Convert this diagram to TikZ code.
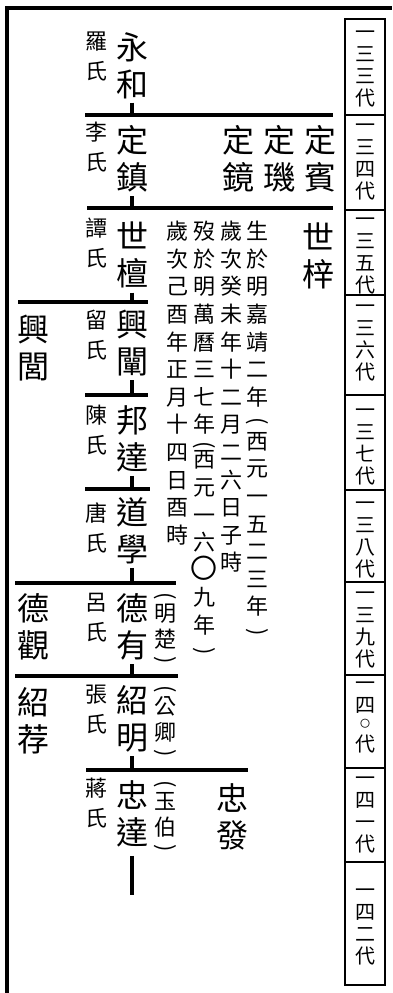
\documentclass[tikz,border=0pt]{standalone}
\usepackage{fontspec}
\newfontfamily\cjk{Noto Sans CJK TC}
\newcommand{\vlp}{\rotatebox[origin=c]{-90}{(}}
\newcommand{\vrp}{\rotatebox[origin=c]{-90}{)}}
\tikzset{
  person/.style={font=\cjk\fontsize{32}{37}\selectfont,align=center,inner sep=0pt,anchor=north},
  wife/.style={font=\cjk\fontsize{22}{29.5}\selectfont,align=center,inner sep=0pt,anchor=north},
  zi/.style={font=\cjk\fontsize{22}{26.5}\selectfont,align=center,inner sep=0pt,anchor=north},
  note/.style={font=\cjk\fontsize{22}{27.6}\selectfont,align=center,inner sep=0pt,anchor=north},
  gen/.style={font=\cjk\fontsize{20}{22}\selectfont,align=center,inner sep=0pt,anchor=north},
  bar/.style={line width=3.2pt},
  outline/.style={line width=3.2pt},
  genline/.style={line width=2.2pt}
}
\begin{document}
\begin{tikzpicture}[x=1pt,y=-1pt]
    \useasboundingbox(0,0)rectangle(392,993);
    \draw[outline](7,993)--(7,8)--(392,8);
    % generation column
    \draw[genline](345,19)rectangle(385,985);
    \draw[genline](345,115)--(385,115);
    \draw[genline](345,210)--(385,210);
    \draw[genline](345,295)--(385,295);
    \draw[genline](345,395)--(385,395);
    \draw[genline](345,490)--(385,490);
    \draw[genline](345,582)--(385,582);
    \draw[genline](345,675)--(385,675);
    \draw[genline](345,768)--(385,768);
    \draw[genline](345,862)--(385,862);
    \node[gen](g133) at(365,31){一\\三\\三\\代};
    \node[gen](g134) at(365,124){一\\三\\四\\代};
    \node[gen](g135) at(365,218){一\\三\\五\\代};
    \node[gen](g136) at(365,305){一\\三\\六\\代};
    \node[gen](g137) at(365,409){一\\三\\七\\代};
    \node[gen](g138) at(365,502){一\\三\\八\\代};
    \node[gen](g139) at(365,592){一\\三\\九\\代};
    \node[gen](g140) at(365,682){一\\四\\[-7pt]{\fontsize{10}{10}\selectfont 〇}\\[1.5pt]代};
    \node[gen](g141) at(365,777){一\\四\\一\\代};
    \node[gen](g142) at(365,889){一\\四\\二\\代};
    % persons
    \node[person](yonghe) at(132,32){永\\和};
    \node[person](dingzhen) at(132,125){定\\鎮};
    \node[person](dingjing) at(238,125){定\\鏡};
    \node[person](dingji) at(279,125){定\\璣};
    \node[person](dingbin) at(320,125){定\\賓};
    \node[person](shitan) at(132,222){世\\檀};
    \node[person](shizi) at(318,223){世\\梓};
    \node[person](xingchan) at(132,310){興\\闡};
    \node[person](xinglv) at(33,315){興\\閭};
    \node[person](bangda) at(132,405){邦\\達};
    \node[person](daoxue) at(132,497){道\\學};
    \node[person](deyou) at(132,593){德\\有};
    \node[person](deguan) at(33,593){德\\觀};
    \node[person](shaoming) at(132,685){紹\\明};
    \node[person](shaojian) at(33,687){紹\\荐};
    \node[person](zhongda) at(132,780){忠\\達};
    \node[person](zhongfa) at(232,783){忠\\發};
    % wives
    \node[wife](luo) at(96,32){羅\\氏};
    \node[wife](li) at(96,122){李\\氏};
    \node[wife](tan) at(96,218){譚\\氏};
    \node[wife](liu) at(96,310){留\\氏};
    \node[wife](chen) at(96,405){陳\\氏};
    \node[wife](tang) at(96,503){唐\\氏};
    \node[wife](lv) at(96,593){呂\\氏};
    \node[wife](zhang) at(96,685){張\\氏};
    \node[wife](jiang) at(96,778){蔣\\氏};
    % courtesy names
    \node[zi](zimingchu) at(165,592){\vlp\\[-8pt]明\\楚\\[-7pt]\vrp};
    \node[zi](zigongqing) at(165,685){\vlp\\[-8pt]公\\卿\\[-7pt]\vrp};
    \node[zi](ziyubo) at(165,780){\vlp\\[-8pt]玉\\伯\\[-7pt]\vrp};
    % birth and death of shitan
    \node[note](born) at(257,221){生\\於\\明\\嘉\\靖\\二\\年\\[-4.6pt]\vlp\\[-6.6pt]西\\元\\一\\五\\二\\三\\年\\[-3.6pt]\vrp};
    \node[note](bornday) at(231,221){歲\\次\\癸\\未\\年\\十\\二\\月\\二\\六\\日\\子\\時};
    \node[note](died) at(204,221){歿\\於\\明\\萬\\曆\\三\\七\\年\\[-8.6pt]\vlp\\[-11.6pt]西\\元\\一\\六\\{\fontsize{27}{27.6}\selectfont 〇}\\九\\年\\[-2.6pt]\vrp};
    \node[note](diedday) at(177,221){歲\\次\\己\\酉\\年\\正\\月\\十\\四\\日\\酉\\時};
    % bars
    \coordinate(b1w) at(85,115); \coordinate(b1e) at(333,115);
    \coordinate(b2w) at(87,208); \coordinate(b2e) at(333,208);
    \coordinate(b3w) at(18,302); \coordinate(b3e) at(148,302);
    \coordinate(b4w) at(85,395); \coordinate(b4e) at(148,395);
    \coordinate(b5w) at(85,489); \coordinate(b5e) at(150,489);
    \coordinate(b6w) at(15,583); \coordinate(b6e) at(176,583);
    \coordinate(b7w) at(15,676); \coordinate(b7e) at(178,676);
    \coordinate(b8w) at(86,770); \coordinate(b8e) at(248,770);
    \coordinate(tail) at(132,895);
    \draw[bar](b1w)--(b1e);
    \draw[bar](b2w)--(b2e);
    \draw[bar](b3w)--(b3e);
    \draw[bar](b4w)--(b4e);
    \draw[bar](b5w)--(b5e);
    \draw[bar](b6w)--(b6e);
    \draw[bar](b7w)--(b7e);
    \draw[bar](b8w)--(b8e);
    \draw[bar]([yshift=-4pt]yonghe.south)--(yonghe.south|-b1w);
    \draw[bar]([yshift=-4pt]dingzhen.south)--(dingzhen.south|-b2w);
    \draw[bar]([yshift=-4pt]shitan.south)--(shitan.south|-b3w);
    \draw[bar]([yshift=-4pt]xingchan.south)--(xingchan.south|-b4w);
    \draw[bar]([yshift=-4pt]bangda.south)--(bangda.south|-b5w);
    \draw[bar]([yshift=-4pt]daoxue.south)--(daoxue.south|-b6w);
    \draw[bar]([yshift=-4pt]deyou.south)--(deyou.south|-b7w);
    \draw[bar]([yshift=-4pt]shaoming.south)--(shaoming.south|-b8w);
    \draw[bar]([yshift=-9pt]zhongda.south)--(zhongda.south|-tail);
\end{tikzpicture}
\end{document}
